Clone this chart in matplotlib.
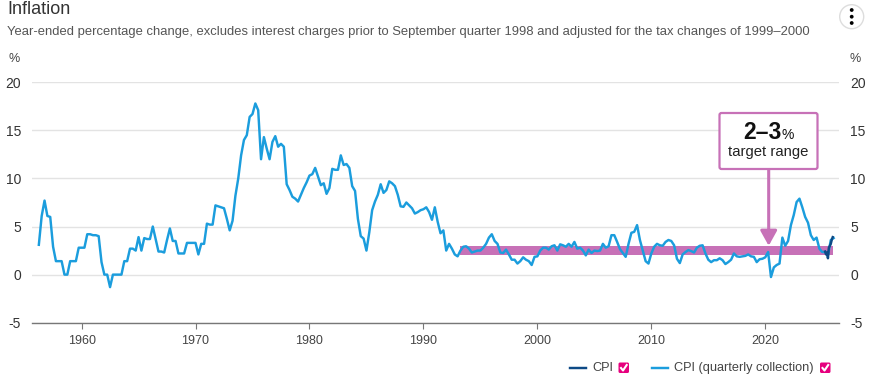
import numpy as np
import matplotlib
matplotlib.use('Agg')
import matplotlib.pyplot as plt
from matplotlib.patches import FancyBboxPatch, Circle
from matplotlib.lines import Line2D
from matplotlib.transforms import IdentityTransform

plt.rcParams['font.family'] = ['Liberation Sans', 'DejaVu Sans']
plt.rcParams['axes.unicode_minus'] = False

# quarterly CPI
cpi_quarterly = [
    3.1, 6.1, 7.7, 6.1, 6.0, 2.9, 1.4, 1.4, 1.4, 0.0, 0.0, 1.4, 1.4, 1.4, 2.8, 2.8,
    2.8, 4.2, 4.2, 4.1, 4.1, 4.0, 1.3, 0.0, 0.0, -1.3, 0.0, 0.0, 0.0, 0.0, 1.4, 1.4,
    2.7, 2.7, 2.5, 3.9, 2.5, 3.8, 3.7, 3.7, 5.0, 3.7, 2.4, 2.4, 2.3, 3.6, 4.8, 3.5,
    3.5, 2.2, 2.2, 2.2, 3.3, 3.3, 3.3, 3.3, 2.1, 3.2, 3.2, 5.3, 5.2, 5.2, 7.2, 7.1,
    7.0, 6.9, 5.8, 4.6, 5.6, 8.2, 10.0, 12.4, 14.0, 14.5, 16.4, 16.7, 17.8, 17.1, 12.0, 14.3,
    13.1, 12.0, 13.8, 14.4, 13.3, 13.6, 13.3, 9.4, 8.8, 8.1, 7.9, 7.6,
    8.3, 9.0, 9.6, 10.3, 10.45, 11.1, 10.2, 9.3, 9.5, 8.4, 9.0, 11.0, 10.9, 10.9, 12.4, 11.4,
    11.5, 11.1, 9.2, 8.7, 5.8, 4.0, 3.75, 2.5, 4.4, 6.7, 7.6, 8.3, 9.4, 8.5, 8.8, 9.7,
    9.5, 9.2, 8.3, 7.1, 7.05, 7.5, 7.2, 6.9, 6.35, 6.5, 6.7, 6.8, 7.0, 6.5, 5.7, 7.0,
    5.5, 4.3, 4.6, 2.5, 3.2, 2.7, 2.1, 1.9, 2.5, 2.9, 2.95, 2.7, 2.3, 2.4, 2.5, 2.5,
    2.8, 3.2, 3.85, 4.2, 3.5, 3.2, 2.3, 2.25, 2.6, 2.1, 1.55, 1.55, 1.15, 1.4, 1.8, 1.55,
    1.4, 1.0, 1.85, 1.9, 2.5, 2.8, 2.8, 2.6, 2.95, 3.05, 2.5, 3.15, 3.05, 2.9, 3.2, 2.9,
    3.4, 2.7, 2.8, 2.5, 2.0, 2.6,
    2.25, 2.5, 2.45, 2.5, 3.2, 2.8, 2.95, 4.1, 4.1, 3.4, 2.65, 2.25, 1.85, 3.2, 4.35, 4.45,
    5.15, 3.6, 2.5, 1.4, 1.15, 2.2, 2.9, 3.2, 3.05, 3.0, 3.4, 3.6, 3.5, 3.05, 1.65, 1.2,
    2.1, 2.35, 2.55, 2.45, 2.3, 2.8, 3.0, 3.05, 2.2, 1.55, 1.3, 1.5, 1.5, 1.7, 1.5, 1.1,
    1.3, 1.55, 2.2, 1.9, 1.85, 1.9, 1.95, 2.1, 1.9, 1.85, 1.3, 1.6, 1.65, 1.8, 2.35, -0.25,
    0.75, 1.0, 1.15, 3.85, 3.0, 3.5, 5.15, 6.2, 7.55, 7.9, 7.0, 6.0, 5.4, 4.1, 3.6, 3.85,
    2.7, 2.35, 2.35, 2.0, 3.6, 3.8,
]
first_quarter = 1956.25
quarters = first_quarter + 0.25 * np.arange(len(cpi_quarterly))

# monthly indicator at the very end
cpi_months = [2025.25, 2025.33, 2025.42, 2025.5, 2025.58, 2025.67, 2025.75, 2025.83, 2025.92]
cpi_monthly = [2.4, 2.1, 2.3, 1.7, 2.8, 3.0, 3.2, 3.6, 3.9]

target_low = 2
target_high = 3
target_start = 1993.25
target_end = 2025.95

year_ticks = [1960, 1970, 1980, 1990, 2000, 2010, 2020]
value_ticks = [-5, 0, 5, 10, 15, 20]

W, H = 876, 381
fig = plt.figure(figsize=(W / 100, H / 100), dpi=100, facecolor='white')
ax = fig.add_axes([32 / W, 1 - 322.7 / H, (839 - 32) / W, (322.7 - 82.3) / H])

ax.set_xlim(1955.65, 2026.47)
ax.set_ylim(-5, 20)
ax.set_yticks(value_ticks)
ax.set_xticks(year_ticks)
ax.grid(axis='y', color='#e3e3e3', lw=1)
ax.set_axisbelow(True)
for side in ['top', 'left', 'right']:
    ax.spines[side].set_visible(False)
ax.spines['bottom'].set_color('#777777')
ax.spines['bottom'].set_linewidth(1)
ax.tick_params(axis='x', length=4, width=0.8, color='#777777', labelsize=9, labelcolor='#444444', pad=5)
ax.tick_params(axis='y', length=0, labelsize=10, labelcolor='#333333', pad=8,
               labelleft=True, labelright=True)

ax.fill_between([target_start, target_end], target_low, target_high, color='#c771b7', lw=0, zorder=2)
ax.plot(quarters, cpi_quarterly, color='#1b9ddd', lw=1.75, zorder=3)
ax.plot(cpi_months, cpi_monthly, color='#0d4a86', lw=1.75, zorder=4)


def px(x, y):
    return x / W, 1 - y / H


# heading
fig.text(*px(7, 10), 'Inflation', fontsize=13, color='#333333', va='center')
fig.text(*px(7, 31.5), 'Year-ended percentage change, excludes interest charges prior to September quarter 1998 '
         'and adjusted for the tax changes of 1999–2000', fontsize=9.37, color='#555555', va='center')
fig.text(*px(14, 59), '%', fontsize=9, color='#444444', ha='center', va='center')
fig.text(*px(855, 59), '%', fontsize=9, color='#444444', ha='center', va='center')

# menu button
fig.add_artist(Circle((851.7, H - 16.7), 12, transform=IdentityTransform(), fc='white', ec='#dddddd', lw=1))
for dot_y in [10, 16.7, 23]:
    fig.add_artist(Circle((851.7, H - dot_y), 1.9, transform=IdentityTransform(), fc='black', ec='none'))

# target range callout
ax.annotate('', xy=(2020.3, 3.0), xytext=(2020.3, 10.9),
            arrowprops=dict(arrowstyle='-|>,head_length=0.9,head_width=0.5', color='#c771b7', lw=2.2,
                            shrinkA=0, shrinkB=0), zorder=5)
fig.add_artist(FancyBboxPatch((719.5, H - 169), 98, 56, boxstyle='round,pad=0,rounding_size=2',
                              transform=IdentityTransform(), fc='white', ec='#c771b7', lw=1.6, zorder=6))
fig.text(*px(762, 132.5), '2–3', fontsize=16.5, fontweight='bold', color='#111111', ha='center', va='center', zorder=7)
fig.text(*px(787.5, 135), '%', fontsize=10, color='#111111', ha='center', va='center', zorder=7)
fig.text(*px(768.5, 152), 'target range', fontsize=10.7, color='#222222', ha='center', va='center', zorder=7)


# legend
def legend_entry(x0, label, color, box_x):
    fig.add_artist(Line2D([x0 / W, (x0 + 16) / W], [1 - 367.5 / H] * 2, color=color, lw=1.75))
    fig.text(*px(x0 + 22, 367.8), label, fontsize=9.2, color='#444444', va='center')
    fig.add_artist(FancyBboxPatch((box_x, H - 373), 10.5, 10.5, boxstyle='round,pad=0,rounding_size=1.5',
                                  transform=IdentityTransform(), fc='#e6007e', ec='none'))
    fig.add_artist(Line2D([box_x + 2.5, box_x + 4.5, box_x + 8.2], [H - 368, H - 370.5, H - 365],
                          transform=IdentityTransform(), color='white', lw=1.5))


legend_entry(570, 'CPI', '#0d4a86', 618.5)
legend_entry(652, 'CPI (quarterly collection)', '#1b9ddd', 820)

fig.savefig('out.png', dpi=100)
